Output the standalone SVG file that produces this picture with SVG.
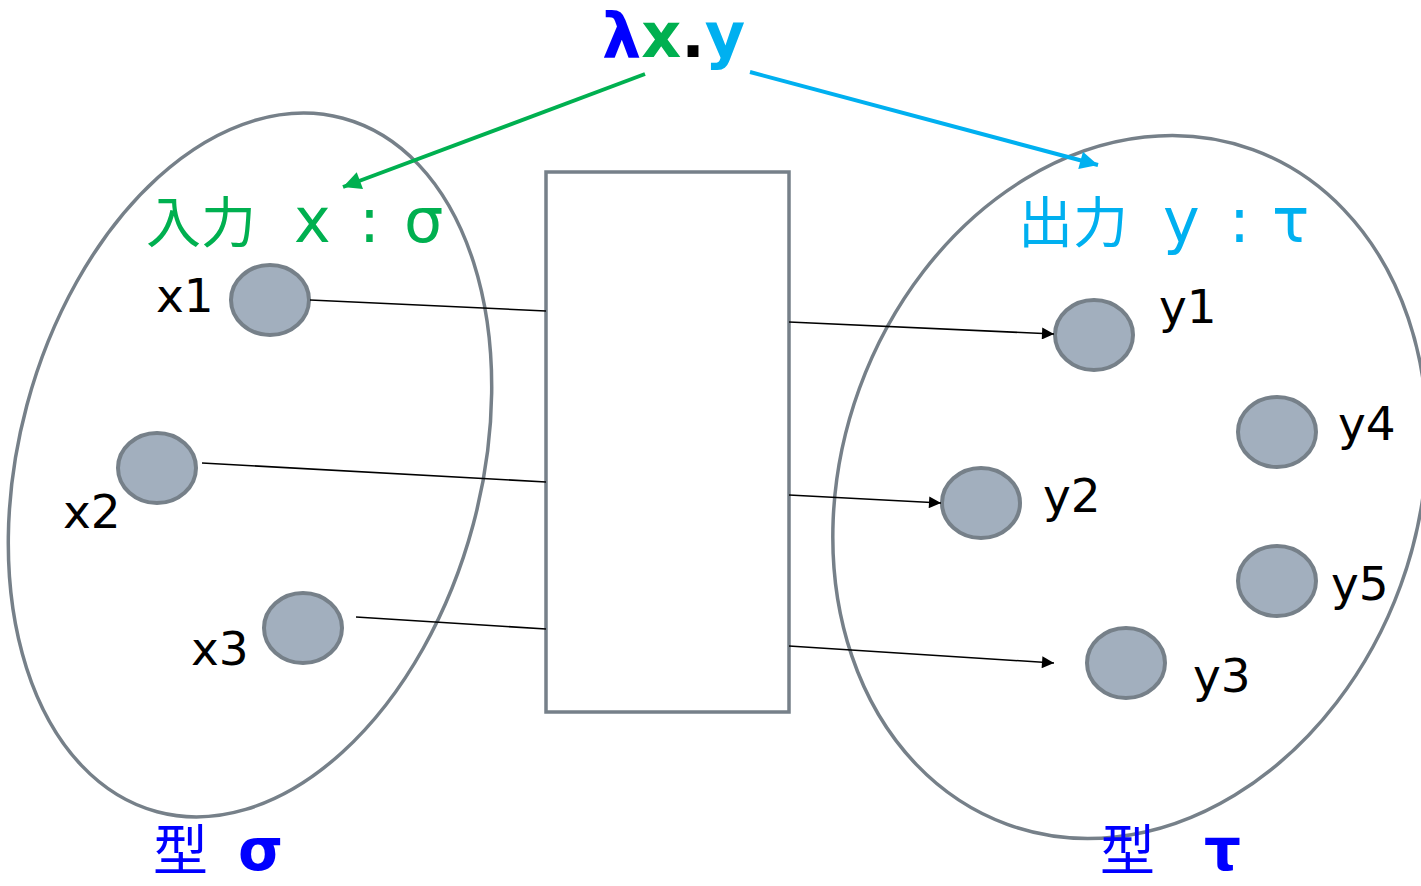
<svg xmlns="http://www.w3.org/2000/svg" width="1421" height="886" viewBox="0 0 1421 886">
<style>
.set{fill:none;stroke:#768089;stroke-width:3.5}
.box{fill:#fff;stroke:#768089;stroke-width:3.5}
.node{fill:#A2AFBE;stroke:#768089;stroke-width:4}
.lbl{font-family:"DejaVu Sans",Verdana,sans-serif;font-size:47px;fill:#000}
.conn{stroke:#000;stroke-width:1.6;fill:none}
.cjk{font-family:"DejaVu Sans","Noto Sans CJK JP",sans-serif;font-size:62px}
.jp{font-family:"Noto Sans CJK JP",sans-serif;font-size:55px}
</style>
<defs>
<marker id="ah" viewBox="0 0 10 10" refX="10" refY="5" markerWidth="17" markerHeight="12" markerUnits="userSpaceOnUse" orient="auto"><path d="M0,0L10,5L0,10z" fill="#000"/></marker>
<marker id="ag" viewBox="0 0 10 10" refX="10" refY="5" markerWidth="22" markerHeight="18" markerUnits="userSpaceOnUse" orient="auto"><path d="M0,0L10,5L0,10z" fill="#00B050"/></marker>
<marker id="ab" viewBox="0 0 10 10" refX="10" refY="5" markerWidth="22" markerHeight="18" markerUnits="userSpaceOnUse" orient="auto"><path d="M0,0L10,5L0,10z" fill="#00B0F0"/></marker>
</defs>
<rect width="1421" height="886" fill="#fff"/>
<g id="setSigma"><ellipse class="set" cx="250" cy="465" rx="231" ry="359" transform="rotate(15 250 465)"/></g>
<g id="setTau"><ellipse class="set" cx="1130" cy="487" rx="288" ry="359" transform="rotate(20 1130 487)"/></g>
<g id="func"><rect class="box" x="546" y="172" width="243" height="540"/></g>
<g id="title"><text x="602" y="57" font-family="'DejaVu Sans',Verdana,sans-serif" font-weight="bold" font-size="62"><tspan fill="#0000FF">λ</tspan><tspan fill="#00B050">x</tspan><tspan fill="#000">.</tspan><tspan fill="#00B0F0">y</tspan></text></g>
<g id="inLabel" class="cjk" fill="#00B050"><text y="242"><tspan x="146" class="jp">入力</tspan><tspan x="294">x</tspan><tspan x="359">:</tspan><tspan x="404">σ</tspan></text></g>
<g id="outLabel" class="cjk" fill="#00B0F0"><text y="242"><tspan x="1018" class="jp">出力</tspan><tspan x="1163">y</tspan><tspan x="1229">:</tspan><tspan x="1272">τ</tspan></text></g>
<g id="typeSigma" fill="#0000FF"><text y="870"><tspan x="153" class="jp">型</tspan><tspan x="238" font-family="'DejaVu Sans',sans-serif" font-weight="bold" font-size="58">σ</tspan></text></g>
<g id="typeTau" fill="#0000FF"><text y="870"><tspan x="1100" class="jp">型</tspan><tspan x="1204" font-family="'DejaVu Sans',sans-serif" font-weight="bold" font-size="58">τ</tspan></text></g>
<g id="x1"><ellipse class="node" cx="270" cy="300" rx="39" ry="35"/><text class="lbl" x="156" y="312">x1</text></g>
<g id="x2"><ellipse class="node" cx="157" cy="468" rx="39" ry="35"/><text class="lbl" x="63" y="528">x2</text></g>
<g id="x3"><ellipse class="node" cx="303" cy="628" rx="39" ry="35"/><text class="lbl" x="191" y="665">x3</text></g>
<g id="y1"><ellipse class="node" cx="1094" cy="335" rx="39" ry="35"/><text class="lbl" x="1159" y="323">y1</text></g>
<g id="y4"><ellipse class="node" cx="1277" cy="432" rx="39" ry="35"/><text class="lbl" x="1338" y="440">y4</text></g>
<g id="y2"><ellipse class="node" cx="981" cy="503" rx="39" ry="35"/><text class="lbl" x="1043" y="512">y2</text></g>
<g id="y5"><ellipse class="node" cx="1277" cy="581" rx="39" ry="35"/><text class="lbl" x="1331" y="600">y5</text></g>
<g id="y3"><ellipse class="node" cx="1126" cy="663" rx="39" ry="35"/><text class="lbl" x="1193" y="692">y3</text></g>
<g id="connectors">
<line class="conn" x1="310" y1="300" x2="546" y2="311"/>
<line class="conn" x1="202" y1="463" x2="546" y2="482"/>
<line class="conn" x1="356" y1="617" x2="546" y2="629"/>
<line class="conn" x1="789" y1="322" x2="1054" y2="334" marker-end="url(#ah)"/>
<line class="conn" x1="789" y1="495" x2="941" y2="503" marker-end="url(#ah)"/>
<line class="conn" x1="789" y1="646" x2="1054" y2="663" marker-end="url(#ah)"/>
<line x1="645" y1="74" x2="343" y2="187" stroke="#00B050" stroke-width="4" marker-end="url(#ag)"/>
<line x1="750" y1="72" x2="1098" y2="165" stroke="#00B0F0" stroke-width="4" marker-end="url(#ab)"/>
</g>
</svg>
